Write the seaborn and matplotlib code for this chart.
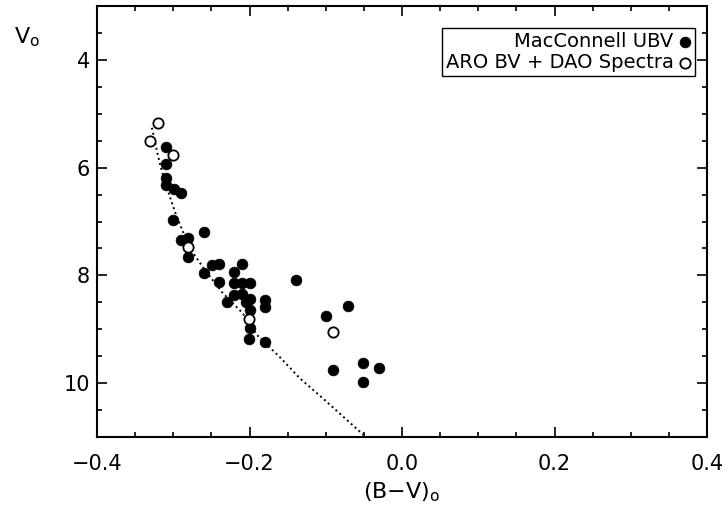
import numpy as np
import pandas as pd
import matplotlib
matplotlib.use("Agg")
import matplotlib.pyplot as plt
from matplotlib.ticker import MultipleLocator
import seaborn as sns

# ---- data ----
mac_bv = [-0.310, -0.310, -0.310, -0.310, -0.299, -0.290, -0.300, -0.260,
          -0.290, -0.281, -0.281, -0.260, -0.249, -0.240, -0.210, -0.220,
          -0.240, -0.220, -0.210, -0.199, -0.139, -0.220, -0.210, -0.199,
          -0.205, -0.230, -0.199, -0.180, -0.180, -0.199, -0.201, -0.180,
          -0.071, -0.100, -0.090, -0.051, -0.030, -0.051]
mac_v = [5.61, 5.94, 6.20, 6.33, 6.39, 6.48, 6.98, 7.19,
         7.35, 7.30, 7.65, 7.96, 7.80, 7.78, 7.78, 7.94,
         8.13, 8.15, 8.15, 8.15, 8.09, 8.37, 8.35, 8.43,
         8.50, 8.50, 8.65, 8.46, 8.59, 8.98, 9.19, 9.24,
         8.56, 8.76, 9.76, 9.63, 9.72, 9.98]

aro_bv = [-0.320, -0.330, -0.300, -0.281, -0.201, -0.090]
aro_v = [5.17, 5.50, 5.76, 7.48, 8.81, 9.06]

zams_bv = [-0.328, -0.320, -0.315, -0.304, -0.295, -0.278, -0.258, -0.235,
           -0.209, -0.190, -0.160, -0.134, -0.104, -0.049]
zams_v = [5.26, 5.78, 6.06, 6.56, 6.93, 7.50, 7.91, 8.33,
          8.70, 9.11, 9.52, 9.91, 10.28, 10.98]

label_mac = "MacConnell UBV"
label_aro = "ARO BV + DAO Spectra"
x_ticks = [-0.4, -0.2, 0.0, 0.2, 0.4]
y_ticks = [4, 6, 8, 10]

mac = pd.DataFrame({"bv": mac_bv, "v": mac_v})
aro = pd.DataFrame({"bv": aro_bv, "v": aro_v})
zams = pd.DataFrame({"bv": zams_bv, "v": zams_v})

# ---- plotting ----
sns.set_theme(style="ticks")
plt.rcParams["font.family"] = ["DejaVu Sans"]
plt.rcParams["mathtext.fontset"] = "dejavusans"
for key in ["text.color", "axes.labelcolor", "xtick.color", "ytick.color",
            "axes.edgecolor"]:
    plt.rcParams[key] = "black"

fig = plt.figure(figsize=(7.26, 5.08), dpi=100)
ax = fig.add_axes([97 / 726, 1 - 437 / 508, 610 / 726, 431 / 508])

sns.lineplot(data=zams, x="bv", y="v", sort=False, estimator=None,
             color="black", linestyle=":", linewidth=1.4, ax=ax, zorder=1)
sns.scatterplot(data=mac, x="bv", y="v", s=60, color="black",
                edgecolor="black", linewidth=0.5, label=label_mac, ax=ax, zorder=3)
sns.scatterplot(data=aro, x="bv", y="v", s=55, facecolor="white",
                edgecolor="black", linewidth=1.3, label=label_aro, ax=ax, zorder=4)

ax.set_xlim(-0.4, 0.4)
ax.set_ylim(11, 3)
ax.set_xticks(x_ticks)
ax.set_xticklabels(["\u22120.4", "\u22120.2", "0.0", "0.2", "0.4"])
ax.set_yticks(y_ticks)
ax.xaxis.set_minor_locator(MultipleLocator(0.05))
ax.yaxis.set_minor_locator(MultipleLocator(0.5))
ax.tick_params(which="both", direction="in", top=True, right=True,
               width=1.2, color="black", labelcolor="black")
ax.tick_params(which="major", length=7)
ax.tick_params(which="minor", length=3.5)
ax.tick_params(axis="x", which="major", labelsize=15, pad=12)
ax.tick_params(axis="y", which="major", labelsize=15, pad=5)
for sp in ax.spines.values():
    sp.set_linewidth(1.5)
    sp.set_color("black")

ax.set_xlabel(r"(B$-$V)$_\mathrm{o}$", fontsize=16, color="black")
ax.xaxis.set_label_coords(0.5, -0.10)
ax.set_ylabel(r"V$_\mathrm{o}$", fontsize=16, rotation=0, ha="left", va="top",
              color="black")
ax.yaxis.set_label_coords(-0.136, 0.955)

leg = ax.legend(loc="upper right", bbox_to_anchor=(0.980, 0.949),
                borderaxespad=0, markerfirst=False, fancybox=False,
                frameon=True, fontsize=14, handlelength=0.6,
                handletextpad=0.3, labelspacing=0.1, borderpad=0.2,
                edgecolor="black", framealpha=1)
leg.get_frame().set_linewidth(1.0)
for t in leg.get_texts():
    t.set_color("black")

fig.savefig("out.png", dpi=100)
